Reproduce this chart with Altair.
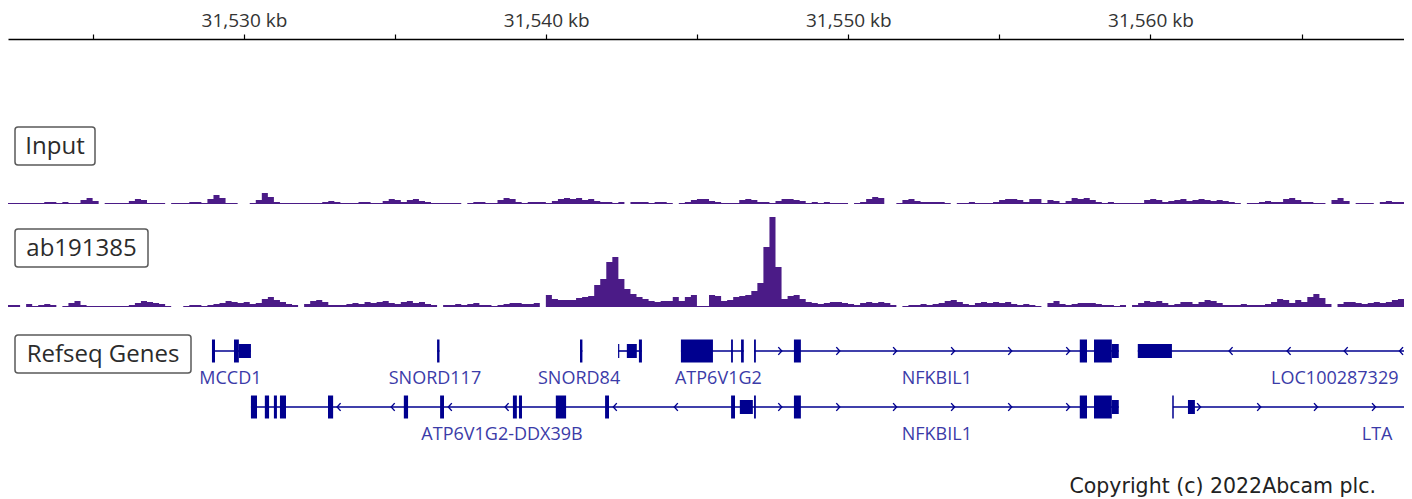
import altair as alt
import pandas as pd

# ---------------- data ----------------
VIEW_START_KB = 31522.19
VIEW_END_KB = 31568.39
BIN_KB = 0.2

tick_kb = [31525, 31530, 31535, 31540, 31545, 31550, 31555, 31560, 31565]

# coverage per 0.2 kb bin (0 = no data)
input_cov = [
    1, 1, 1, 1, 1, 1, 2, 2, 1, 2, 1, 1, 4, 6, 3,
    0,
    1, 1, 1, 1, 3, 5, 4, 1, 1, 1,
    0,
    1, 1, 1, 2, 2, 1, 5, 9, 6, 1, 1,
    0, 0,
    1, 4, 11, 7, 2, 1, 1, 1,
    1, 1, 1, 1, 2, 3, 2, 1, 1, 1, 2, 2, 1, 1, 3, 5, 4, 2, 4, 5, 3, 2, 1, 1, 1, 1, 1, 0,
    1, 2, 2, 1, 1, 4, 6, 5, 2, 1, 2, 2, 2, 1, 3, 5, 6, 5, 6, 4, 5, 3, 2, 2, 1, 2, 0,
    2, 2, 2, 1, 2, 2, 1,
    0,
    1, 2, 4, 5, 5, 3, 2, 1, 1,
    1, 4, 5, 4, 2, 2, 1, 3, 5, 5, 4, 3, 1, 2, 1, 2, 1, 1, 1,
    0,
    1, 2, 5, 7, 6,
    0, 0,
    1, 4, 5, 3, 2, 2, 2, 2, 1,
    0,
    1, 1, 2, 1, 1,
    1, 2, 4, 5, 5, 4, 2,
    5, 5,
    1, 4, 3, 1, 3, 6, 5, 6, 4, 2, 1, 2, 1, 1, 1, 1,
    1, 4, 5, 4, 2, 3, 4, 5, 3, 4, 5, 4, 3, 4, 3, 2, 1,
    0,
    1, 1, 2, 3, 2, 2, 5, 6, 4, 2, 2, 1, 1,
    0,
    4, 6, 3,
    0,
    1, 1, 1,
    0,
    2, 3, 2, 2,
]

chip_cov = [
    2, 2, 0, 3, 1, 2, 3, 2, 0,
    1, 4, 6, 2, 1, 1, 1, 1, 1,
    1, 1, 2, 4, 6, 5, 4, 3, 1,
    0, 0,
    1, 2, 2, 1, 2, 3, 4, 6, 5, 4, 5, 3, 4, 8, 10, 7, 5, 3, 2,
    0,
    3, 6, 7, 5, 2, 2,
    2, 3, 4, 3, 5, 4, 5, 6, 4, 3, 5, 6, 4, 5, 3, 2,
    0,
    2, 2, 3, 2, 3, 4, 2, 2, 1, 2, 3, 4, 4, 3, 3, 4,
    0,
    12, 8, 7, 7, 7, 9, 10, 11, 22, 28, 45, 50, 28, 18, 13,
    10, 8, 6, 5, 6, 6, 10, 6, 10, 12,
    1, 1,
    12, 11,
    6, 7,
    10, 11, 12,
    16, 24,
    60, 90, 40,
    8, 11, 12, 8,
    5, 4, 3, 4, 5,
    5, 4, 3, 2, 4, 5, 4, 5, 4, 2,
    0,
    1, 2, 2, 3, 2, 3, 4, 6, 7, 5, 3, 2, 4, 5, 4, 5, 4, 5, 3, 2, 3, 2, 1,
    0,
    4, 6, 3, 2, 3, 4, 4, 4, 3, 2, 2, 1, 2,
    0,
    2, 4, 6, 5, 6, 4, 2, 3, 5, 5, 3, 5, 7, 6, 4, 2, 2, 2, 3, 2,
    2, 2, 3, 5, 8, 7, 4, 7, 5, 10, 13, 9, 3,
    0,
    3, 5, 5, 4, 3, 4, 5, 4, 5, 7, 8,
]

track_names = ["Input", "ab191385", "Refseq Genes"]

gene_name = ["MCCD1", "SNORD117", "SNORD84", "", "ATP6V1G2", "NFKBIL1",
             "LOC100287329", "ATP6V1G2-DDX39B", "NFKBIL1", "LTA"]
gene_row = [1, 1, 1, 1, 1, 1, 1, 2, 2, 2]
gene_start = [31528.94, 31536.39, 31541.12, 31542.38, 31544.46, 31546.88,
              31559.58, 31530.23, 31546.94, 31560.74]
gene_end = [31530.23, 31536.47, 31541.20, 31543.17, 31546.54, 31558.95,
            31570.00, 31546.94, 31558.95, 31570.00]
gene_strand = ["-", "-", "-", "-", "-", "+", "-", "-", "+", "+"]
gene_label_kb = [31529.55, 31536.32, 31541.09, 0, 31545.70, 31552.93,
                 31566.10, 31538.54, 31552.93, 31567.50]

exon_gene = [0, 0, 0,
             1,
             2,
             3, 3, 3,
             4, 4, 4,
             5, 5, 5, 5, 5,
             6,
             7, 7, 7, 7, 7, 7, 7, 7, 7, 7, 7, 7, 7, 7,
             8, 8, 8, 8,
             9, 9]
exon_start = [31528.94, 31529.67, 31529.83,
              31536.39,
              31541.12,
              31542.38, 31542.67, 31543.07,
              31544.46, 31546.12, 31546.45,
              31546.88, 31548.20, 31557.66, 31558.13, 31558.72,
              31559.58,
              31530.23, 31530.69, 31530.99, 31531.19, 31532.78, 31535.29, 31536.49,
              31538.90, 31539.10, 31540.32, 31541.95, 31546.12, 31546.41, 31546.88,
              31548.20, 31557.66, 31558.13, 31558.72,
              31560.72, 31561.24]
exon_end = [31529.04, 31529.83, 31530.23,
            31536.47,
            31541.20,
            31542.42, 31543.00, 31543.17,
            31545.52, 31546.18, 31546.54,
            31546.94, 31548.43, 31557.90, 31558.72, 31558.95,
            31560.71,
            31530.43, 31530.83, 31531.09, 31531.39, 31532.95, 31535.43, 31536.62,
            31539.03, 31539.20, 31540.66, 31542.08, 31546.25, 31546.84, 31546.94,
            31548.43, 31557.90, 31558.72, 31558.95,
            31560.77, 31561.47]
exon_kind = ["tall", "tall", "mid",
             "tall",
             "tall",
             "mid", "mid", "tall",
             "tall", "tall", "tall",
             "tall", "tall", "tall", "tall", "mid",
             "mid",
             "tall", "tall", "tall", "tall", "tall", "tall", "tall",
             "tall", "tall", "tall", "tall", "tall", "mid", "tall",
             "tall", "tall", "tall", "mid",
             "tall", "mid"]

arrow_gene = [7, 7, 7, 7, 7, 7,
              5, 5, 5, 5, 5, 5,
              8, 8, 8, 8, 8, 8,
              6, 6, 6, 6,
              9, 9, 9, 9]
arrow_kb = [31533.14, 31534.93, 31536.82, 31538.70, 31542.28, 31544.30,
            31547.74, 31549.66, 31551.54, 31553.46, 31555.35, 31557.27,
            31547.74, 31549.66, 31551.54, 31553.46, 31555.35, 31557.27,
            31562.66, 31564.58, 31566.47, 31568.30,
            31561.60, 31563.59, 31565.47, 31567.39]

copyright_text = ["Copyright (c) 2022Abcam plc."]

# ---------------- styling / layout ----------------
PURPLE = "#4b1b87"
NAVY = "#00008f"
GENE_LABEL = "#3b3ba8"
FONT = "Open Sans"
WIDTH = 1396
H_INPUT, H_CHIP, H_GENES = 165, 103, 191
ROW_Y = {1: 44, 2: 100}
HALF_H = {"tall": 11.5, "mid": 7}
LABEL_DY = 28

xscale = alt.Scale(domain=[VIEW_START_KB, VIEW_END_KB], nice=False, zero=False)


def cov_frame(values):
    """Contiguous runs of covered bins become separate step areas."""
    rows = []
    seg = 0
    prev = 0
    for i, v in enumerate(values):
        if v > 0:
            if prev == 0:
                seg += 1
            rows.append({"pos": VIEW_START_KB + i * BIN_KB, "value": v, "seg": seg})
            nxt = values[i + 1] if i + 1 < len(values) else 0
            if nxt == 0:
                rows.append({"pos": VIEW_START_KB + (i + 1) * BIN_KB, "value": v, "seg": seg})
        prev = v
    return pd.DataFrame(rows)


def track_label(name, x0, x1, y0, y1):
    df = pd.DataFrame({"name": [name]})
    box = alt.Chart(df).mark_rect(fill="white", stroke="#5a5a5a", strokeWidth=1.5,
                                  cornerRadius=3).encode(
        x=alt.value(x0), x2=alt.value(x1), y=alt.value(y0), y2=alt.value(y1))
    txt = alt.Chart(df).mark_text(font=FONT, fontSize=24, color="#2b2b2b",
                                  baseline="middle", align="center").encode(
        x=alt.value((x0 + x1) / 2), y=alt.value((y0 + y1) / 2 + 1), text="name:N")
    return box + txt


def coverage(df, height, axis):
    return alt.Chart(df).mark_area(interpolate="step-after", color=PURPLE,
                                   clip=True).encode(
        x=alt.X("pos:Q", scale=xscale, axis=axis),
        y=alt.Y("value:Q", stack=None, scale=alt.Scale(domain=[0, height]), axis=None),
        detail="seg:N")


ruler_axis = alt.Axis(orient="top", values=tick_kb,
                      labelExpr="datum.value % 10 === 0 ? format(datum.value, ',') + ' kb' : ''",
                      tickSize=5, tickColor="black", tickWidth=1.2,
                      domainColor="black", domainWidth=1.6,
                      labelFont=FONT, labelFontSize=19, labelColor="#333333",
                      labelPadding=4, labelOverlap=False, labelFlush=False,
                      grid=False, title=None)

panel_input = alt.layer(
    coverage(cov_frame(input_cov), H_INPUT, ruler_axis),
    track_label(track_names[0], 7, 87, 88, 126),
).properties(width=WIDTH, height=H_INPUT)

panel_chip = alt.layer(
    coverage(cov_frame(chip_cov), H_CHIP, None),
    track_label(track_names[1], 7, 140, 25, 63),
).properties(width=WIDTH, height=H_CHIP)

genes_df = pd.DataFrame({"name": gene_name, "row": gene_row, "start": gene_start,
                         "end": gene_end, "strand": gene_strand,
                         "label_kb": gene_label_kb})
genes_df["y"] = genes_df["row"].map(ROW_Y)
genes_df["label_y"] = genes_df["y"] + LABEL_DY

exons_df = pd.DataFrame({"gene": exon_gene, "start": exon_start, "end": exon_end,
                         "kind": exon_kind})
exons_df["y"] = exons_df["gene"].map(lambda g: ROW_Y[gene_row[g]])
exons_df["h"] = exons_df["kind"].map(HALF_H)
exons_df["y0"] = exons_df["y"] - exons_df["h"]
exons_df["y1"] = exons_df["y"] + exons_df["h"]

arrows_df = pd.DataFrame({"gene": arrow_gene, "kb": arrow_kb})
arrows_df["y"] = arrows_df["gene"].map(lambda g: ROW_Y[gene_row[g]])
arrows_df["strand"] = arrows_df["gene"].map(lambda g: gene_strand[g])

yg = alt.Scale(domain=[0, H_GENES], reverse=True)
PLUS = "M -0.45 -1 L 0.45 0 L -0.45 1"
MINUS = "M 0.45 -1 L -0.45 0 L 0.45 1"

gene_lines = alt.Chart(genes_df).mark_rule(color=NAVY, strokeWidth=1.6, clip=True).encode(
    x=alt.X("start:Q", scale=xscale, axis=None), x2="end:Q",
    y=alt.Y("y:Q", scale=yg, axis=None))

gene_exons = alt.Chart(exons_df).mark_rect(color=NAVY, clip=True).encode(
    x=alt.X("start:Q", scale=xscale, axis=None), x2="end:Q",
    y=alt.Y("y0:Q", scale=yg, axis=None), y2="y1:Q")

gene_arrows = alt.Chart(arrows_df).mark_point(filled=False, color=NAVY, strokeWidth=1.4,
                                              size=60, opacity=1, clip=True).encode(
    x=alt.X("kb:Q", scale=xscale, axis=None),
    y=alt.Y("y:Q", scale=yg, axis=None),
    shape=alt.Shape("strand:N", scale=alt.Scale(domain=["+", "-"], range=[PLUS, MINUS]),
                    legend=None))

gene_labels = alt.Chart(genes_df).transform_filter("datum.name != ''").mark_text(
    font=FONT, fontSize=18, color=GENE_LABEL, baseline="middle", align="center").encode(
    x=alt.X("label_kb:Q", scale=xscale, axis=None),
    y=alt.Y("label_y:Q", scale=yg, axis=None),
    text="name:N")

copyright_mark = alt.Chart(pd.DataFrame({"t": copyright_text})).mark_text(
    font="DejaVu Sans", fontSize=20.5, color="#222222", align="right",
    baseline="middle").encode(x=alt.value(1368), y=alt.value(180), text="t:N")

panel_genes = alt.layer(
    gene_lines, gene_exons, gene_arrows, gene_labels,
    track_label(track_names[2], 7, 183, 28, 66),
    copyright_mark,
).properties(width=WIDTH, height=H_GENES)

chart = alt.vconcat(panel_input, panel_chip, panel_genes, spacing=0).properties(
    padding={"left": 0, "top": 3, "right": 0, "bottom": 0}
).configure_view(stroke=None).resolve_scale(y="independent")

chart.save("out.html", embed_options={"renderer": "svg", "actions": False})
